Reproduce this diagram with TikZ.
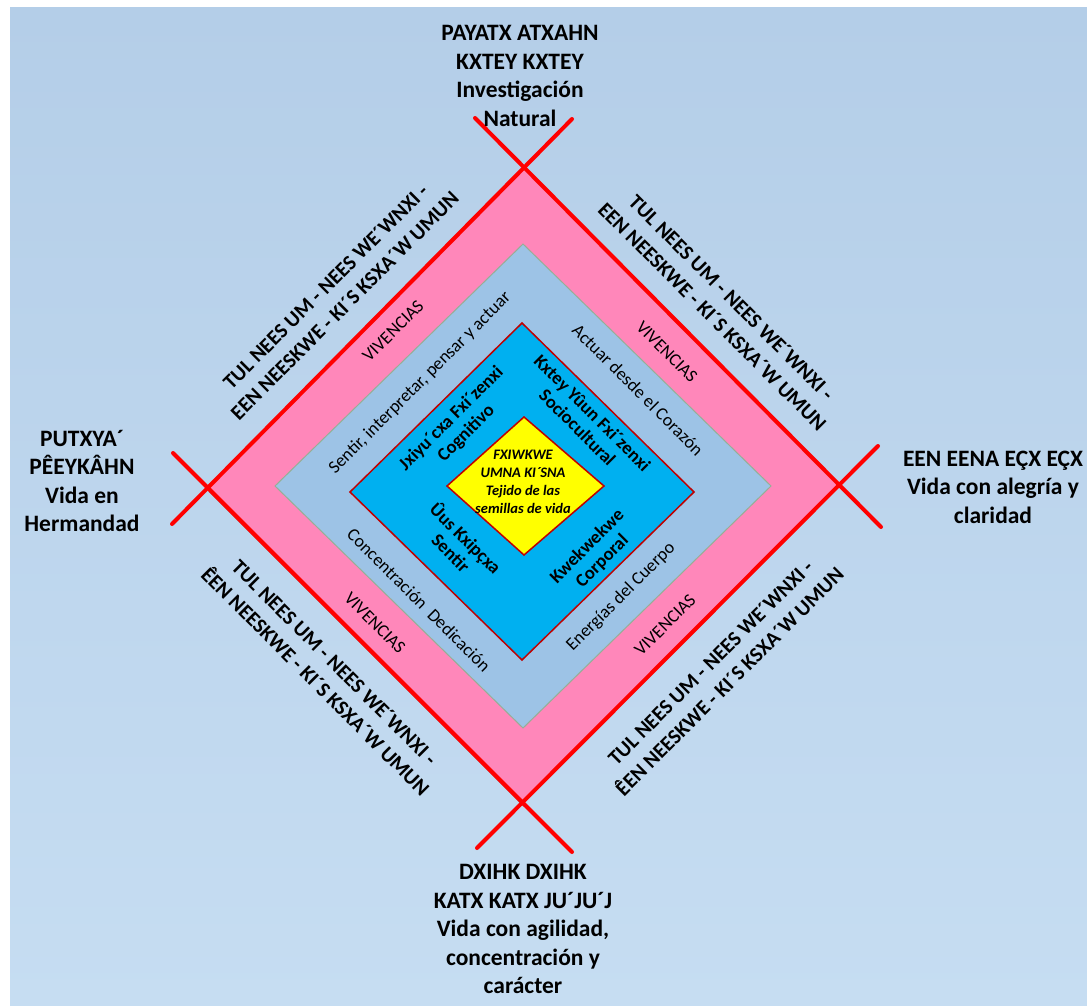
\documentclass[tikz,border=0pt]{standalone}
\usepackage{fontspec}
\setmainfont{Carlito}
\usetikzlibrary{calc}
\definecolor{bgtop}{RGB}{180,206,232}
\definecolor{bgmid}{RGB}{200,201,203}
\definecolor{bgbot}{RGB}{198,221,242}
\definecolor{pinkband}{RGB}{255,135,186}
\definecolor{lightband}{RGB}{157,195,230}
\definecolor{lightedge}{RGB}{150,175,150}
\definecolor{innerblue}{RGB}{0,176,240}
\definecolor{darkred}{RGB}{192,0,0}
\definecolor{linered}{RGB}{255,0,0}
\definecolor{coreyellow}{RGB}{255,255,0}
\definecolor{shadowred}{RGB}{150,0,0}
\begin{document}
\begin{tikzpicture}[x=1pt,y=-1pt,
  title/.style={font=\fontsize{23.5}{28.5}\selectfont\bfseries, align=center, inner sep=0pt},
  edgetext/.style={font=\fontsize{21}{27}\selectfont\bfseries, align=center, inner sep=0pt},
  viv/.style={font=\fontsize{18}{22}\selectfont, inner sep=0pt},
  band/.style={font=\fontsize{18}{22}\selectfont, inner sep=0pt},
  innerlbl/.style={font=\fontsize{18.5}{21}\selectfont\bfseries, align=center, inner sep=0pt},
  core/.style={font=\fontsize{14.5}{18}\selectfont\bfseries\itshape, align=center, inner sep=0pt},
  redline/.style={draw=linered, line width=4pt, line cap=round},
]
\useasboundingbox (0,0) rectangle (1087,1006);
\shade[top color=bgtop, middle color=bgmid, bottom color=bgbot] (10,8) rectangle (1087,1006);

% outer pink diamond
\coordinate (oT) at (523,169);
\coordinate (oR) at (838,486);
\coordinate (oB) at (523,803);
\coordinate (oL) at (208,488);
\fill[pinkband] (oT) -- (oR) -- (oB) -- (oL) -- cycle;

% light blue diamond
\coordinate (lT) at (523,244);
\coordinate (lR) at (771,486);
\coordinate (lB) at (523,728);
\coordinate (lL) at (275,486);
\filldraw[fill=lightband, draw=lightedge, line width=1pt] (lT) -- (lR) -- (lB) -- (lL) -- cycle;

% inner blue diamond
\coordinate (iT) at (522,323);
\coordinate (iR) at (694,492);
\coordinate (iB) at (522,660);
\coordinate (iL) at (350,492);
\filldraw[fill=innerblue, draw=darkred, line width=1.5pt] (iT) -- (iR) -- (iB) -- (iL) -- cycle;

% yellow core
\coordinate (cT) at (524,417);
\coordinate (cR) at (604,486);
\coordinate (cB) at (524,555);
\coordinate (cL) at (447,486);
\filldraw[fill=coreyellow, draw=darkred, line width=1.5pt] (cT) -- (cR) -- (cB) -- (cL) -- cycle;

% red edge lines extended past the vertices
\coordinate (e1a) at (572,119);
\coordinate (e1b) at (172,524);
\coordinate (e2a) at (475,118);
\coordinate (e2b) at (881,527);
\coordinate (e3a) at (878,446);
\coordinate (e3b) at (477,848);
\coordinate (e4a) at (572,852);
\coordinate (e4b) at (173,453);
\draw[draw=shadowred, line width=3pt, opacity=0.6] ($(oL)+(1.5,2.5)$) -- ($(oB)+(1.5,2.5)$);
\draw[redline] (e1a) -- (e1b);
\draw[redline] (e2a) -- (e2b);
\draw[redline] (e3a) -- (e3b);
\draw[redline] (e4a) -- (e4b);

% titles
\node[title] (ttop) at (520,76) {PAYATX ATXAHN\\KXTEY KXTEY\\Investigación\\Natural};
\node[title] (tleft) at (82,481) {PUTXYA´\\PÊEYKÂHN\\Vida en\\Hermandad};
\node[title] (tright) at (993,487) {EEN EENA EÇX EÇX\\Vida con alegría y\\claridad};
\node[title] (tbottom) at (523,929) {DXIHK DXIHK\\KATX KATX JU´JU´J\\Vida con agilidad,\\concentración y\\carácter};

% edge texts
\node[edgetext, rotate=45] (etl) at (335,296) {TUL NEES UM - NEES WE´WNXI -\\EEN NEESKWE - KI´S KSXA´W UMUN};
\node[edgetext, rotate=-45] (etr) at (722,307) {TUL NEES UM - NEES WE´WNXI -\\EEN NEESKWE - KI´S KSXA´W UMUN};
\node[edgetext, rotate=-45] (ebl) at (325,672) {TUL NEES UM - NEES WE´WNXI -\\ÊEN NEESKWE - KI´S KSXA´W UMUN};
\node[edgetext, rotate=45] (ebr) at (720,672) {TUL NEES UM - NEES WE´WNXI -\\ÊEN NEESKWE - KI´S KSXA´W UMUN};

% vivencias
\node[viv, rotate=45] (vtl) at (393,331) {VIVENCIAS};
\node[viv, rotate=-45] (vtr) at (667,352) {VIVENCIAS};
\node[viv, rotate=-45] (vbl) at (375,623) {VIVENCIAS};
\node[viv, rotate=45] (vbr) at (665,625) {VIVENCIAS};

% light band texts
\node[band, rotate=45] (btl) at (420,383) {Sentir, interpretar, pensar y actuar};
\node[band, rotate=-45] (btr) at (638,390) {Actuar desde el Corazón};
\node[band, rotate=-45] (bbl) at (419,600) {Concentración~ Dedicación};
\node[band, rotate=45] (bbr) at (621,597) {Energías del Cuerpo};

% inner labels
\node[innerlbl, rotate=45] (itl) at (459,426) {Jxiyu´cxa Fxi´zenxi\\Cognitivo};
\node[innerlbl, rotate=-45] (itr) at (585,420) {Kxtey Yûun Fxi´zenxi\\Sociocultural};
\node[innerlbl, rotate=-45] (ibl) at (459,545) {Ûus Kxipçxa\\Sentir};
\node[innerlbl, rotate=45] (ibr) at (595,554) {Kwekwekwe\\Corporal};

% core
\node[core] (core) at (523,482) {FXIWKWE\\UMNA KI´SNA\\Tejido de las\\semillas de vida};
\end{tikzpicture}
\end{document}
